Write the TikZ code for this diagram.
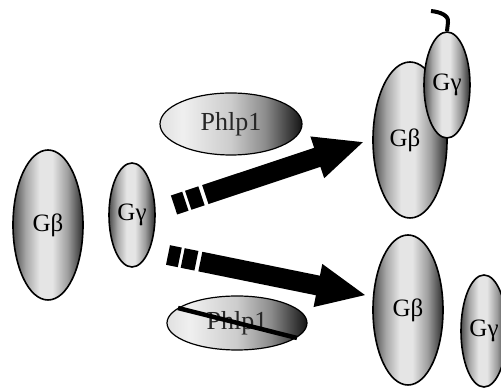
\documentclass[tikz,border=0pt]{standalone}
\usepackage{fontspec}
\setmainfont{Liberation Serif}
\usetikzlibrary{shapes.geometric}
\pgfdeclarehorizontalshading{gshade}{100bp}{color(0bp)=(black!70); color(25bp)=(black!70); color(34bp)=(black!35); color(44bp)=(black!10); color(53bp)=(black!10); color(64bp)=(black!38); color(75bp)=(black!82); color(100bp)=(black!82)}
\pgfdeclarehorizontalshading{pshade}{100bp}{color(0bp)=(black!12); color(25bp)=(black!12); color(33bp)=(black!6); color(50bp)=(black!20); color(62bp)=(black!45); color(75bp)=(black!92); color(100bp)=(black!92)}
\newcommand\fatarrowshape[1]{%
  \fill (0,-10) rectangle (12,10);
  \fill (15,-10) rectangle (29,10);
  \fill (33,-10) -- ({#1-48},-10) -- ({#1-48},-22) -- (#1,0) -- ({#1-48},22) -- ({#1-48},10) -- (33,10) -- cycle;}
\tikzset{
  prot/.style={ellipse, draw=black, line width=1.6pt, shading=gshade, inner sep=0pt, font=\fontsize{25}{27}\selectfont},
  phl/.style={ellipse, draw=black, line width=1.2pt, shading=pshade, inner sep=0pt, text=black!85, font=\fontsize{26}{28}\selectfont},
}
\begin{document}
\begin{tikzpicture}[x=1pt,y=1pt]
\useasboundingbox (0,0) rectangle (501,390);
% left
\node[prot, minimum width=70pt, minimum height=150pt] (gb1) at (48,165) {Gβ};
\node[prot, minimum width=46pt, minimum height=104pt] (gg1) at (132,175) {Gγ};
% Phlp1
\node[phl, minimum width=142pt, minimum height=62pt] (p1) at (231,266) {Phlp1};
\node[phl, minimum width=140pt, minimum height=54pt] (p2) at (237,67) {Phlp1};
\draw[line width=4.5pt] ([shift={(-59,15)}]p2.center) -- ([shift={(60,-15)}]p2.center);
% arrows
\begin{scope}[shift={(174,185)}, rotate=18.4]
  \fatarrowshape{199}
\end{scope}
\begin{scope}[shift={(168,135)}, rotate=-11.5]
  \fatarrowshape{201}
\end{scope}
% top right complex
\node[prot, minimum width=74pt, minimum height=156pt] (gb2) at (410,250) {\hspace*{-10pt}Gβ};
\node[prot, minimum width=46pt, minimum height=106pt] (gg2) at (447,305) {Gγ};
\draw[line width=4pt] (gg2.north) -- ++(1,9) .. controls +(1,7) and (440,378) .. (431,379);
% bottom right
\node[prot, minimum width=70pt, minimum height=150pt] (gb3) at (408,80) {Gβ};
\node[prot, minimum width=46pt, minimum height=112pt] (gg3) at (484,59) {Gγ};
\end{tikzpicture}
\end{document}
